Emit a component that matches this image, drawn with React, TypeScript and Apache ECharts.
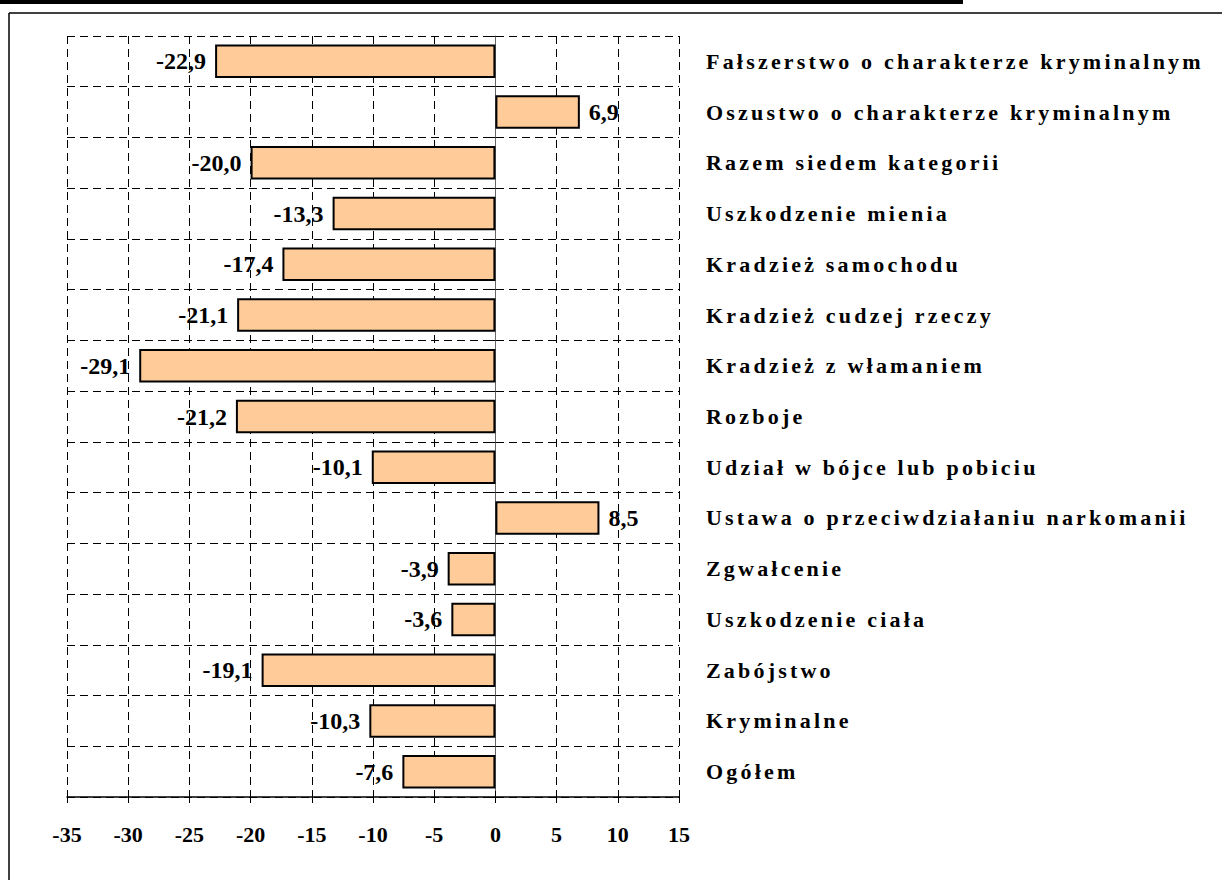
import React, { useEffect, useRef } from "react";
import * as echarts from "echarts";

const categories: string[] = [
  "Fałszerstwo o charakterze kryminalnym",
  "Oszustwo o charakterze kryminalnym",
  "Razem siedem kategorii",
  "Uszkodzenie mienia",
  "Kradzież samochodu",
  "Kradzież cudzej rzeczy",
  "Kradzież z włamaniem",
  "Rozboje",
  "Udział w bójce lub pobiciu",
  "Ustawa o przeciwdziałaniu narkomanii",
  "Zgwałcenie",
  "Uszkodzenie ciała",
  "Zabójstwo",
  "Kryminalne",
  "Ogółem",
];

const values: number[] = [
  -22.9, 6.9, -20.0, -13.3, -17.4, -21.1, -29.1, -21.2, -10.1, 8.5, -3.9, -3.6, -19.1, -10.3, -7.6,
];

const xMin = -35;
const xMax = 15;
const xStep = 5;

const SERIF = "Liberation Serif";

export default function App() {
  const ref = useRef<HTMLDivElement>(null);

  useEffect(() => {
    if (!ref.current) return;
    const chart = echarts.init(ref.current, undefined, { renderer: "svg" });
    const dashed = { color: "#000", width: 1, type: [8, 5] as any };

    chart.setOption({
      animation: false,
      backgroundColor: "#fff",
      grid: { left: 67, right: 543, top: 36, bottom: 83, containLabel: false },
      xAxis: [
        {
          type: "value",
          min: xMin,
          max: xMax,
          interval: xStep,
          position: "bottom",
          axisLine: { show: true, onZero: false, lineStyle: { color: "#000", width: 1.5 } },
          axisTick: { show: true, length: 6, lineStyle: { color: "#000", width: 1 } },
          axisLabel: {
            margin: 26,
            fontFamily: SERIF,
            fontWeight: "bold",
            fontSize: 22,
            color: "#000",
          },
          splitLine: { show: true, lineStyle: dashed },
        },
        {
          type: "value",
          min: xMin,
          max: xMax,
          interval: xStep,
          position: "bottom",
          axisLine: { show: false, onZero: false },
          axisTick: { show: true, inside: true, length: 6, lineStyle: { color: "#000", width: 1 } },
          axisLabel: { show: false },
          splitLine: { show: false },
        },
      ],
      yAxis: [
        {
          type: "category",
          data: categories,
          inverse: true,
          axisLine: { show: true, onZero: true, lineStyle: { color: "#666", width: 1 } },
          axisTick: { show: true, length: 6, lineStyle: { color: "#000" } },
          axisLabel: { show: false },
          splitLine: { show: true, lineStyle: dashed },
        },
        {
          type: "category",
          data: categories,
          inverse: true,
          position: "right",
          axisLine: { show: false },
          axisTick: { show: false },
          splitLine: { show: false },
          axisLabel: {
            margin: 27,
            fontFamily: SERIF,
            fontWeight: "bold",
            fontSize: 22,
            color: "#000",
            align: "left",
          },
        },
      ],
      graphic: [
        { type: "rect", shape: { x: 0, y: 0, width: 963, height: 4 }, style: { fill: "#000" } },
        { type: "line", shape: { x1: 9, y1: 13, x2: 1222, y2: 13 }, style: { stroke: "#000", lineWidth: 1.5 } },
        { type: "line", shape: { x1: 9, y1: 13, x2: 9, y2: 880 }, style: { stroke: "#000", lineWidth: 1.5 } },
      ],
      series: [
        {
          type: "bar",
          xAxisIndex: 0,
          yAxisIndex: 0,
          barCategoryGap: "34%",
          data: values.map((v) => ({
            value: v,
            label: {
              position: v < 0 ? "left" : "right",
              distance: 9,
            },
          })),
          itemStyle: { color: "#FFCC99", borderColor: "#000", borderWidth: 2 },
          label: {
            show: true,
            fontFamily: SERIF,
            fontWeight: "bold",
            fontSize: 24,
            color: "#000",
            formatter: (p: any) => p.value.toFixed(1).replace(".", ","),
          },
        },
      ],
    });

    const applySpacing = () => {
      if (!ref.current) return;
      ref.current.querySelectorAll("text").forEach((t) => {
        if (categories.includes((t.textContent || "").trim())) {
          t.setAttribute("letter-spacing", "3.2");
        }
      });
    };
    chart.on("finished", applySpacing);
    applySpacing();
    const raf = requestAnimationFrame(applySpacing);
    const tm = setTimeout(applySpacing, 50);

    return () => {
      cancelAnimationFrame(raf);
      clearTimeout(tm);
      chart.dispose();
    };
  }, []);

  return (
    <div
      ref={ref}
      style={{ position: "fixed", left: 0, top: 0, width: 1222, height: 880, background: "#fff" }}
    />
  );
}
